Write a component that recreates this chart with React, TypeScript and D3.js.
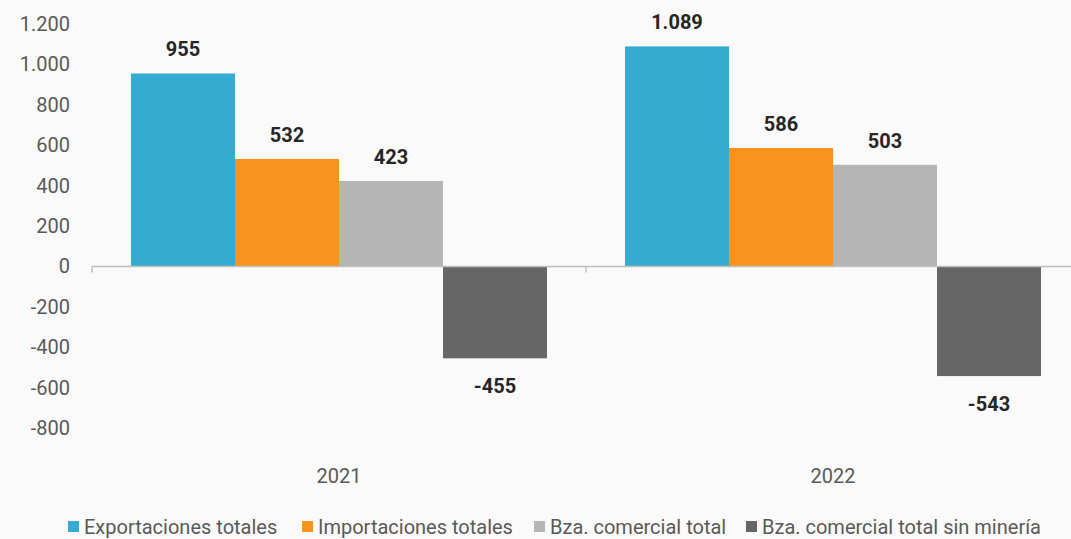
import React from "react";
import * as d3 from "d3";

const years = ["2021", "2022"];
const seriesNames = [
  "Exportaciones totales",
  "Importaciones totales",
  "Bza. comercial total",
  "Bza. comercial total sin minería",
];
const exportaciones = [955, 1089];
const importaciones = [532, 586];
const bzaTotal = [423, 503];
const bzaSinMineria = [-455, -543];
const yTicks = [1200, 1000, 800, 600, 400, 200, 0, -200, -400, -600, -800];
const colors = ["#36abd0", "#f7931e", "#b5b5b5", "#666666"];

const W = 1071;
const H = 539;
const FONT = "Roboto, 'Open Sans', sans-serif";

const fmt = (v: number) => {
  const s = Math.abs(v).toString().replace(/\B(?=(\d{3})+(?!\d))/g, ".");
  return (v < 0 ? "-" : "") + s;
};

export default function App() {
  const values = [exportaciones, importaciones, bzaTotal, bzaSinMineria];
  const x0 = d3.scaleBand().domain(years).range([92, 1080]).paddingInner(0).paddingOuter(0);
  const x1 = d3
    .scaleBand()
    .domain(seriesNames)
    .range([0, x0.bandwidth()])
    .paddingOuter(0.375)
    .paddingInner(0);
  const y = d3.scaleLinear().domain([-800, 1200]).range([428, 24]);
  const legendX = [68, 302, 534, 746];

  return (
    <svg
      width={W}
      height={H}
      style={{ position: "absolute", left: 0, top: 0, background: "#fafafa" }}
      fontFamily={FONT}
    >
      <rect x={0} y={0} width={W} height={H} fill="#fafafa" />
      {yTicks.map((t) => (
        <text
          key={t}
          x={70}
          y={y(t)}
          dy="0.35em"
          textAnchor="end"
          fontSize={20}
          fill="#595959"
        >
          {fmt(t)}
        </text>
      ))}
      {years.map((yr, gi) => (
        <g key={yr} transform={`translate(${x0(yr)},0)`}>
          {seriesNames.map((s, si) => {
            const v = values[si][gi];
            const bx = x1(s) as number;
            const top = Math.min(y(v), y(0));
            const h = Math.abs(y(v) - y(0));
            return (
              <g key={s}>
                <rect x={bx} y={top} width={x1.bandwidth()} height={h} fill={colors[si]} />
                <text
                  x={bx + x1.bandwidth() / 2}
                  y={v >= 0 ? y(v) - 17 : y(v) + 28}
                  dy={v >= 0 ? "0" : "0.35em"}
                  textAnchor="middle"
                  fontSize={20}
                  fontWeight="bold"
                  fill="#262626"
                >
                  {fmt(v)}
                </text>
              </g>
            );
          })}
          <text
            x={x0.bandwidth() / 2}
            y={476}
            dy="0.35em"
            textAnchor="middle"
            fontSize={20}
            fill="#595959"
          >
            {yr}
          </text>
        </g>
      ))}
      <line x1={92} x2={1080} y1={y(0)} y2={y(0)} stroke="#bfbfbf" strokeWidth={1.5} />
      {[...years.map((yr) => x0(yr) as number), 1079].map((tx, i) => (
        <line key={i} x1={tx} x2={tx} y1={y(0)} y2={y(0) + 6} stroke="#bfbfbf" strokeWidth={1.5} />
      ))}
      {seriesNames.map((s, i) => (
        <g key={s} transform={`translate(${legendX[i]},0)`}>
          <rect x={0} y={521} width={11} height={11} fill={colors[i]} />
          <text x={16} y={527} dy="0.35em" fontSize={20} fill="#595959">
            {s}
          </text>
        </g>
      ))}
    </svg>
  );
}
